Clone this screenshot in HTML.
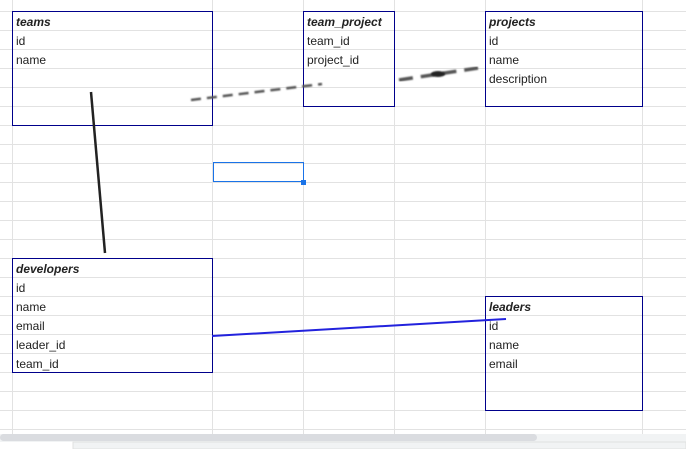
<!DOCTYPE html>
<html><head><style>
body{margin:0;width:686px;height:449px;overflow:hidden;background:#fff;position:relative;font-family:"Liberation Sans",Arial,sans-serif}
.b{position:absolute;border:1px solid #00008b;box-sizing:border-box}
.t{position:absolute;font-size:12px;color:#222;line-height:19px}
.i{font-style:italic;font-weight:bold}
</style></head><body>
<svg width="686" height="449" style="position:absolute;left:0;top:0">
<g stroke="#e2e2e2" stroke-width="1">
<line x1="12.5" y1="0" x2="12.5" y2="434"/><line x1="212.5" y1="0" x2="212.5" y2="434"/>
<line x1="303.5" y1="0" x2="303.5" y2="434"/><line x1="394.5" y1="0" x2="394.5" y2="434"/>
<line x1="485.5" y1="0" x2="485.5" y2="434"/><line x1="642.5" y1="0" x2="642.5" y2="434"/>
</g>
<g stroke="#e2e2e2">
<line x1="0" x2="686" y1="11.5" y2="11.5"/><line x1="0" x2="686" y1="30.5" y2="30.5"/><line x1="0" x2="686" y1="49.5" y2="49.5"/><line x1="0" x2="686" y1="68.5" y2="68.5"/><line x1="0" x2="686" y1="87.5" y2="87.5"/><line x1="0" x2="686" y1="106.5" y2="106.5"/><line x1="0" x2="686" y1="125.5" y2="125.5"/><line x1="0" x2="686" y1="144.5" y2="144.5"/><line x1="0" x2="686" y1="163.5" y2="163.5"/><line x1="0" x2="686" y1="182.5" y2="182.5"/><line x1="0" x2="686" y1="201.5" y2="201.5"/><line x1="0" x2="686" y1="220.5" y2="220.5"/><line x1="0" x2="686" y1="239.5" y2="239.5"/><line x1="0" x2="686" y1="258.5" y2="258.5"/><line x1="0" x2="686" y1="277.5" y2="277.5"/><line x1="0" x2="686" y1="296.5" y2="296.5"/><line x1="0" x2="686" y1="315.5" y2="315.5"/><line x1="0" x2="686" y1="334.5" y2="334.5"/><line x1="0" x2="686" y1="353.5" y2="353.5"/><line x1="0" x2="686" y1="372.5" y2="372.5"/><line x1="0" x2="686" y1="391.5" y2="391.5"/><line x1="0" x2="686" y1="410.5" y2="410.5"/><line x1="0" x2="686" y1="429.5" y2="429.5"/>
</g>
<rect x="0" y="434" width="686" height="8" fill="#f1f3f4"/>
<rect x="0" y="434" width="537" height="7" rx="3.5" fill="#dadce0"/>
<rect x="73" y="442" width="613" height="7" fill="#f1f3f4" stroke="#e0e0e0"/>
<rect x="213.5" y="162.5" width="90" height="19" fill="none" stroke="#1a73e8"/>
<rect x="301" y="180" width="5" height="5" fill="#1a73e8"/>
</svg>
<div class="b" style="left:12px;top:11px;width:201px;height:115px"></div>
<div class="b" style="left:303px;top:11px;width:92px;height:96px"></div>
<div class="b" style="left:485px;top:11px;width:158px;height:96px"></div>
<div class="b" style="left:12px;top:258px;width:201px;height:115px"></div>
<div class="b" style="left:485px;top:296px;width:158px;height:115px"></div>
<div class="t" style="left:16px;top:12.5px"><span class="i">teams</span><br>id<br>name</div>
<div class="t" style="left:307px;top:12.5px"><span class="i">team_project</span><br>team_id<br>project_id</div>
<div class="t" style="left:489px;top:12.5px"><span class="i">projects</span><br>id<br>name<br>description</div>
<div class="t" style="left:16px;top:259.5px"><span class="i">developers</span><br>id<br>name<br>email<br>leader_id<br>team_id</div>
<div class="t" style="left:489px;top:297.5px"><span class="i">leaders</span><br>id<br>name<br>email</div>
<svg width="686" height="449" style="position:absolute;left:0;top:0">
<defs><filter id="bl"><feGaussianBlur stdDeviation="0.8"/></filter></defs>
<line x1="91" y1="92" x2="105" y2="253" stroke="#222" stroke-width="2.5"/>
<line x1="191" y1="100" x2="322" y2="84" stroke="#555" stroke-width="2.5" stroke-dasharray="10,6" filter="url(#bl)"/>
<line x1="399" y1="80" x2="478" y2="68" stroke="#555" stroke-width="3.5" stroke-dasharray="14,8" filter="url(#bl)"/>
<ellipse cx="438" cy="74" rx="7" ry="3" fill="#222" filter="url(#bl)"/>
<line x1="212" y1="336" x2="506" y2="319" stroke="#2222dd" stroke-width="2"/>
</svg>
</body></html>
